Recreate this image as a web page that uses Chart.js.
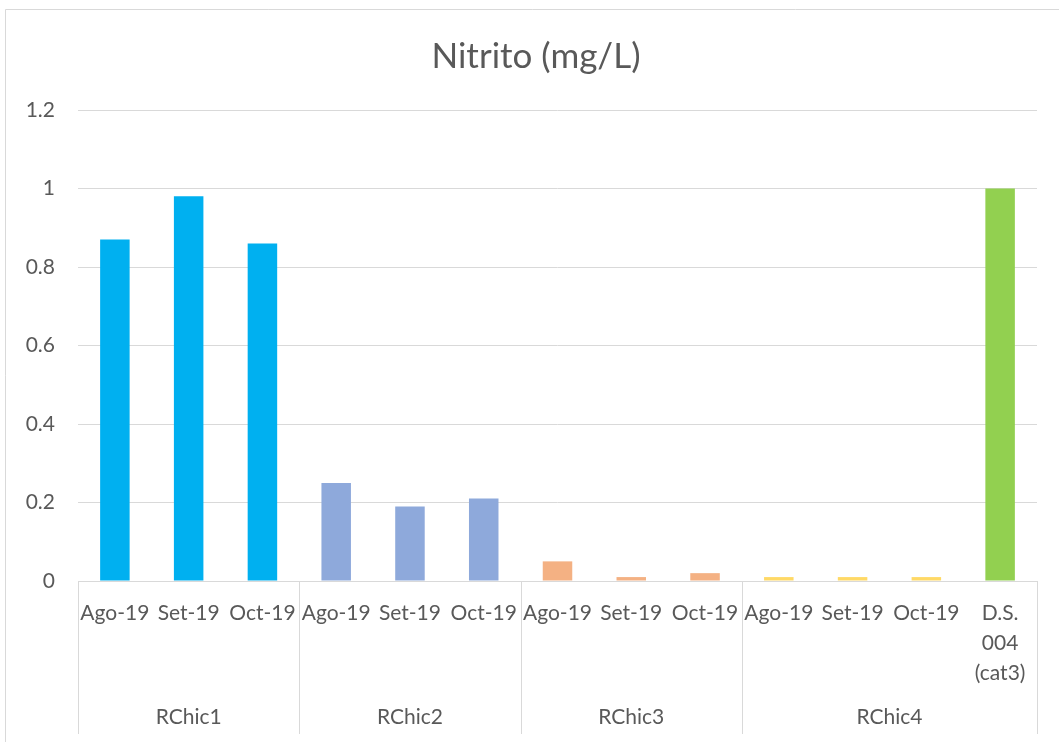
<!DOCTYPE html>
<html>
<head>
<meta charset="utf-8">
<title>Nitrito (mg/L)</title>
<script src="https://cdn.jsdelivr.net/npm/chart.js@4/dist/chart.umd.min.js"></script>
<style>
  html, body { margin: 0; padding: 0; background: #ffffff; }
  #wrap { position: relative; width: 1059px; height: 742px; }
  canvas { display: block; }
</style>
</head>
<body>
<div id="wrap"><canvas id="chart" width="1059" height="742"></canvas></div>
<script>
// Sampling months per station, and the reference limit as the last column
const months = ['Ago-19', 'Set-19', 'Oct-19'];
const stations = ['RChic1', 'RChic2', 'RChic3', 'RChic4'];
const limitLabel = ['D.S.', '004', '(cat3)'];

// Nitrite concentration (mg/L), three months per station
const rchic1 = [0.87, 0.98, 0.86];
const rchic2 = [0.25, 0.19, 0.21];
const rchic3 = [0.05, 0.01, 0.02];
const rchic4 = [0.01, 0.01, 0.01];
const limitValue = [1.0];

// Y axis tick values
const yTicks = [0, 0.2, 0.4, 0.6, 0.8, 1, 1.2];

const stationColors = ['#00B0F0', '#8EA9DB', '#F4B183', '#FFD966'];
const limitColor = '#92D050';

const textColor = '#595959';
const lineColor = '#D9D9D9';
const fontFamily = 'Lato, "Open Sans", sans-serif';

// Flatten into one bar series with a colour per bar
const seriesByStation = [rchic1, rchic2, rchic3, rchic4];
const labels = [];
const values = [];
const colors = [];
const groups = [];   // [label, firstIndex, lastIndex]
seriesByStation.forEach((arr, s) => {
  const start = labels.length;
  arr.forEach((v, m) => {
    labels.push(months[m]);
    values.push(v);
    colors.push(stationColors[s]);
  });
  groups.push([stations[s], start, labels.length - 1]);
});
labels.push(limitLabel);
values.push(limitValue[0]);
colors.push(limitColor);
// the last station bracket also spans the limit column
groups[groups.length - 1][2] = labels.length - 1;

// Outer frame and white background
const framePlugin = {
  id: 'frame',
  beforeDraw(chart) {
    const { ctx, width, height } = chart;
    ctx.save();
    ctx.fillStyle = '#ffffff';
    ctx.fillRect(0, 0, width, height);
    ctx.strokeStyle = lineColor;
    ctx.lineWidth = 1;
    ctx.beginPath();
    ctx.moveTo(5.5, height);
    ctx.lineTo(5.5, 9.5);
    ctx.lineTo(width, 9.5);
    ctx.stroke();
    ctx.restore();
  }
};

// Centre the title over the framed area rather than the padded layout box
const titleShiftPlugin = {
  id: 'titleShift',
  afterLayout(chart) {
    if (chart.titleBlock) chart.titleBlock.left += 10;
  }
};

// Second category row: station names with bracket lines below the axis
const groupAxisPlugin = {
  id: 'groupAxis',
  afterDraw(chart) {
    const { ctx } = chart;
    const x = chart.scales.x;
    const half = (x.getPixelForValue(1) - x.getPixelForValue(0)) / 2;
    const top = x.top;
    const lineEnd = x.bottom - 8;
    const labelY = x.top + 136;
    ctx.save();
    ctx.strokeStyle = lineColor;
    ctx.lineWidth = 1;
    ctx.fillStyle = textColor;
    ctx.font = '21px ' + fontFamily;
    ctx.textAlign = 'center';
    ctx.textBaseline = 'middle';
    const edges = new Set();
    groups.forEach(([name, a, b]) => {
      const left = x.getPixelForValue(a) - half;
      const right = x.getPixelForValue(b) + half;
      edges.add(Math.round(left));
      edges.add(Math.round(right));
      ctx.fillText(name, (left + right) / 2, labelY);
    });
    edges.forEach(px => {
      ctx.beginPath();
      ctx.moveTo(px + 0.5, top);
      ctx.lineTo(px + 0.5, lineEnd);
      ctx.stroke();
    });
    ctx.restore();
  }
};

new Chart(document.getElementById('chart'), {
  type: 'bar',
  data: {
    labels: labels,
    datasets: [{
      data: values,
      backgroundColor: colors,
      borderWidth: 0,
      barPercentage: 0.4,
      categoryPercentage: 1.0
    }]
  },
  options: {
    responsive: false,
    animation: false,
    devicePixelRatio: 1,
    layout: { padding: { left: 25, right: 22, top: 0, bottom: 0 } },
    plugins: {
      legend: { display: false },
      tooltip: { enabled: false },
      title: {
        display: true,
        text: 'Nitrito (mg/L)',
        color: textColor,
        font: { family: fontFamily, size: 35, weight: 'normal', lineHeight: 1.2 },
        padding: { top: 36, bottom: 32 }
      }
    },
    scales: {
      x: {
        grid: { display: false, drawTicks: false },
        border: { display: true, color: lineColor, width: 1 },
        ticks: {
          color: textColor,
          font: { family: fontFamily, size: 21, lineHeight: '30px' },
          padding: 17,
          maxRotation: 0,
          minRotation: 0,
          autoSkip: false
        },
        afterFit(scale) { scale.height = 161; }
      },
      y: {
        min: 0,
        max: 1.2,
        grid: { color: lineColor, lineWidth: 1, drawTicks: false },
        border: { display: false },
        ticks: {
          color: textColor,
          font: { family: fontFamily, size: 21 },
          padding: 23,
          callback: v => String(v)
        },
        afterBuildTicks(scale) { scale.ticks = yTicks.map(v => ({ value: v })); },
        afterFit(scale) { scale.width = 53; }
      }
    }
  },
  plugins: [framePlugin, titleShiftPlugin, groupAxisPlugin]
});
</script>
</body>
</html>
